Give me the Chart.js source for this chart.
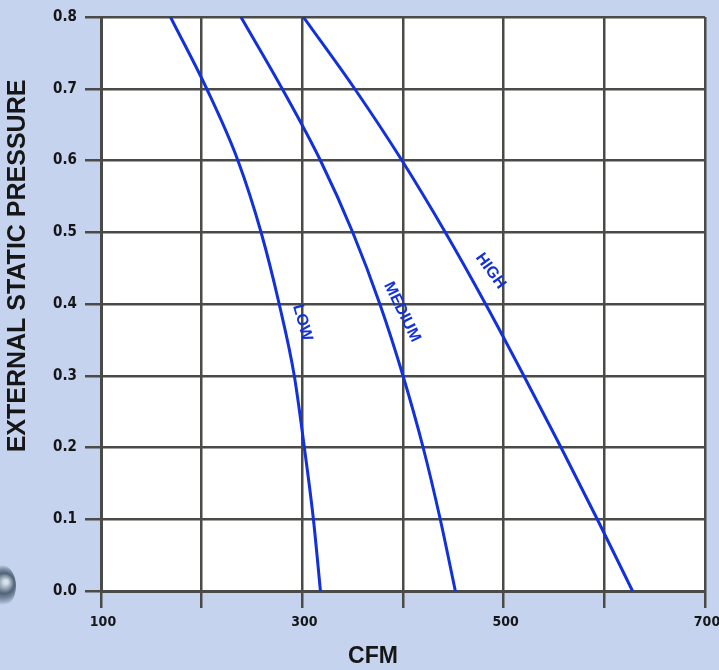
<!DOCTYPE html>
<html>
<head>
<meta charset="utf-8">
<script src="https://cdn.jsdelivr.net/npm/chart.js@4.4.1/dist/chart.umd.min.js"></script>
<style>
  html, body { margin: 0; padding: 0; background: #c5d3ef; }
  #wrap { width: 719px; height: 670px; position: relative; }
</style>
</head>
<body>
<div id="wrap"><canvas id="fanChart"></canvas></div>
<script>
// fan curves: external static pressure vs CFM
const pressure = [0.8, 0.7, 0.6, 0.5, 0.4, 0.3, 0.2, 0.1, 0.0]
const lowCfm = [169, 205, 236, 259, 277, 292, 302, 311, 318]
const mediumCfm = [239, 280, 318, 350, 377, 400, 420, 437, 452]
const highCfm = [301, 352, 399, 442, 482, 520, 557, 593, 628]
const speedNames = ['LOW', 'MEDIUM', 'HIGH']
const xTickLabels = [100, 300, 500, 700]

const COLORS = {
  page: '#c5d3ef',
  plot: '#ffffff',
  grid: '#4a4b47',
  line: '#1231dc',
  text: '#161616',
}

const NARROW = '"Liberation Sans Narrow", "Arial Narrow", "DejaVu Sans Condensed", "Liberation Sans", Arial, sans-serif'
const SANS = '"Liberation Sans", Arial, Helvetica, sans-serif'

// where each curve name sits (data coords) and how much it is turned
const labelSpots = [
  { cfm: 300, esp: 0.374, angle: 74 },
  { cfm: 399, esp: 0.389, angle: 64 },
  { cfm: 487, esp: 0.446, angle: 54 },
]

const toPoints = xs => xs.map((x, i) => ({ x, y: pressure[i] }))

const backdrop = {
  id: 'backdrop',
  beforeDraw(chart) {
    const { ctx, chartArea: a, width, height } = chart
    ctx.save()
    ctx.fillStyle = COLORS.page
    ctx.fillRect(0, 0, width, height)
    // binder hole at the left edge
    const g = ctx.createRadialGradient(6, 582, 2, 2, 585, 20)
    g.addColorStop(0, '#d8e2ea')
    g.addColorStop(0.45, '#50657a')
    g.addColorStop(1, 'rgba(40,55,70,0)')
    ctx.fillStyle = g
    ctx.beginPath()
    ctx.ellipse(0, 586, 16, 22, 0, 0, Math.PI * 2)
    ctx.fill()
    ctx.fillStyle = COLORS.plot
    ctx.fillRect(a.left, a.top, a.right - a.left, a.bottom - a.top)
    ctx.restore()
  },
}

const curveLabels = {
  id: 'curveLabels',
  afterDatasetsDraw(chart) {
    const { ctx, scales: { x, y } } = chart
    ctx.save()
    ctx.fillStyle = COLORS.line
    ctx.font = 'bold 16px ' + SANS
    ctx.textAlign = 'center'
    ctx.textBaseline = 'middle'
    labelSpots.forEach((s, i) => {
      ctx.save()
      ctx.translate(x.getPixelForValue(s.cfm), y.getPixelForValue(s.esp))
      ctx.rotate(s.angle * Math.PI / 180)
      ctx.fillText(speedNames[i], 0, 0)
      ctx.restore()
    })
    // axis titles sit off-centre in the original, so they are placed by hand
    ctx.fillStyle = COLORS.text
    ctx.font = 'bold 23px ' + SANS
    ctx.fillText('CFM', 373, 657)
    ctx.save()
    ctx.translate(18, 266)
    ctx.rotate(-Math.PI / 2)
    ctx.font = 'bold 25px ' + SANS
    ctx.fillText('EXTERNAL STATIC PRESSURE', 0, 0)
    ctx.restore()
    ctx.restore()
  },
}

new Chart(document.getElementById('fanChart'), {
  type: 'scatter',
  data: {
    datasets: [lowCfm, mediumCfm, highCfm].map((xs, i) => ({
      label: speedNames[i],
      data: toPoints(xs),
      showLine: true,
      borderColor: COLORS.line,
      borderWidth: 3,
      pointRadius: 0,
      cubicInterpolationMode: 'monotone',
    })),
  },
  options: {
    responsive: true,
    maintainAspectRatio: false,
    animation: false,
    layout: { padding: { top: 15, right: 0, left: 0, bottom: 0 } },
    plugins: { legend: { display: false }, tooltip: { enabled: false } },
    scales: {
      x: {
        type: 'linear',
        min: 100,
        max: 700,
        afterFit: s => { s.height = 79; s.paddingRight = 14 },
        grid: { color: COLORS.grid, lineWidth: 2.5, tickLength: 17 },
        border: { color: COLORS.grid, width: 3 },
        ticks: {
          stepSize: 100,
          padding: 6,
          labelOffset: 2,
          color: COLORS.text,
          font: { family: NARROW, size: 14, weight: 'bold' },
          callback: v => xTickLabels.includes(v) ? String(v) : '',
        },
      },
      y: {
        min: 0,
        max: 0.8,
        afterFit: s => { s.width = 101 },
        grid: { color: COLORS.grid, lineWidth: 2.5, tickLength: 16 },
        border: { color: COLORS.grid, width: 3 },
        ticks: {
          stepSize: 0.1,
          padding: 8,
          color: COLORS.text,
          font: { family: NARROW, size: 15, weight: 'bold' },
          callback: v => v.toFixed(1),
        },
      },
    },
  },
  plugins: [backdrop, curveLabels],
})
</script>
</body>
</html>
